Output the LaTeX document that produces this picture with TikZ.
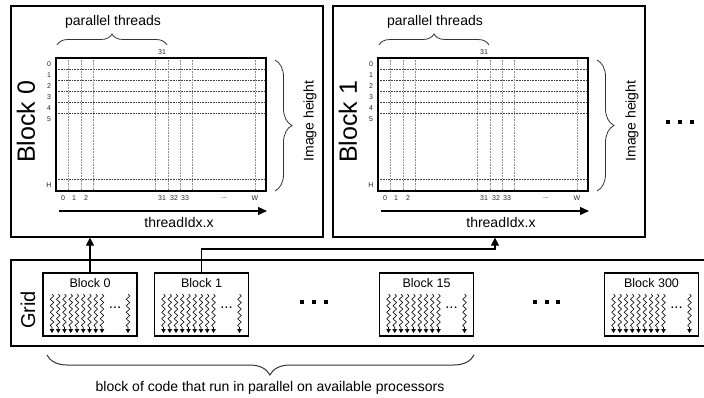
\documentclass[tikz,border=0pt]{standalone}
\usepackage{fontspec}
\setmainfont{Liberation Sans}
\usetikzlibrary{arrows.meta,decorations.pathreplacing,decorations.pathmorphing}
\begin{document}
\begin{tikzpicture}[x=1pt,y=-1pt,
  bigbox/.style={draw,line width=1.3pt,minimum width=312pt,minimum height=231pt,inner sep=0pt},
  imggrid/.style={draw,line width=1.6pt,minimum width=210pt,minimum height=133pt,inner sep=0pt},
  hdot/.style={densely dotted,line width=0.6pt,black!75},
  vdot/.style={densely dotted,line width=0.6pt,black!45},
  tinylab/.style={font=\fontsize{7}{7}\selectfont,inner sep=0pt,text=black!85},
  midlab/.style={font=\fontsize{14}{14}\selectfont,inner sep=0pt},
  biglab/.style={font=\fontsize{25}{25}\selectfont,inner sep=0pt,rotate=90},
  bracestyle/.style={decorate,line width=0.8pt,black!80},
  sblock/.style={draw,line width=1.2pt,minimum width=94pt,minimum height=63pt,inner sep=0pt},
  stitle/.style={font=\fontsize{12.5}{12.5}\selectfont,inner sep=0pt},
  wave/.style={decorate,decoration={snake,segment length=6.5pt,amplitude=1.8pt,post length=4pt},
    line width=0.6pt,-{Triangle[length=4pt,width=4.5pt]}},
  conn/.style={line width=1.3pt},
  bigtip/.style={-{Triangle[length=8pt,width=8pt]}}
]
\useasboundingbox (0,0) rectangle (704,398);

% ---------- two block panels ----------
\foreach \k/\off in {0/0,1/322}{
  \node[bigbox] (big\k) at (167+\off,121.5) {};
  \node[imggrid] (img\k) at (161+\off,124.5) {};
  \foreach \yy in {69,80,91,102,113,179}
    \draw[hdot] (56+\off,\yy) -- (266+\off,\yy);
  \foreach \xx in {68,81,93,155,168,180,192,255}
    \draw[vdot] (\xx+\off,58) -- (\xx+\off,191);
  \node[imggrid] at (img\k) {};
  \foreach \t/\yy in {0/64,1/75,2/86,3/97,4/108,5/119,H/185}
    \node[tinylab] (r\k\t) at (49+\off,\yy) {\t};
  \foreach \t/\xx in {0/63,1/74,2/86,31/162,32/174,33/185,W/255}
    \node[tinylab] (c\k\t) at (\xx+\off,198) {\t};
  \node[tinylab] (cd\k) at (224+\off,198) {...};
  \node[tinylab] (top\k) at (162+\off,52) {31};
  \draw[bracestyle,decoration={brace,amplitude=11pt}] (57+\off,45) -- (167+\off,45);
  \node[midlab] (pt\k) at (113+\off,22) {parallel threads};
  \draw[bracestyle,decoration={brace,amplitude=17pt}] (275+\off,60) -- (275+\off,191);
  \node[midlab,rotate=90] (ih\k) at (310+\off,121) {Image height};
  \node[biglab] (bl\k) at (26+\off,122) {Block \k};
  \coordinate (axs\k) at (59+\off,211);
  \coordinate (axe\k) at (267+\off,211);
  \draw[line width=1.2pt,-{Triangle[length=9pt,width=8pt]}] (axs\k) -- (axe\k);
  \node[midlab] (tx\k) at (179+\off,222) {threadIdx.x};
}

% dots to the right of the panels
\foreach \xx in {668,680,692}
  \fill (\xx-2,120) rectangle (\xx+2,124);

% ---------- grid ----------
\node[draw,line width=1.3pt,minimum width=699pt,minimum height=86pt,inner sep=0pt] (gridbox) at (360.5,303) {};
\node[font=\fontsize{20}{20}\selectfont,inner sep=0pt,rotate=90] (gridlab) at (28,310) {Grid};

\foreach \n/\cx/\lab in {b0/90/Block 0,b1/201.5/Block 1,b15/426.5/Block 15,b300/651.5/Block 300}{
  \node[sblock] (\n) at (\cx,304.5) {};
  \node[stitle] (\n t) at (\cx,283) {\lab};
  \foreach \j in {0,...,8}
    \draw[wave] (\cx-38+\j*6.25,294) -- (\cx-38+\j*6.25,333);
  \draw[wave] (\cx+38,294) -- (\cx+38,333);
  \node[font=\fontsize{15}{15}\selectfont,inner sep=0pt] (\n d) at (\cx+25,308) {...};
}

\foreach \xx in {302,314,326,535,547,558}
  \fill (\xx-2,300) rectangle (\xx+2,304);

% connectors
\draw[conn,bigtip] (b0.north) -- (b0.north |- big0.south);
\coordinate (jn) at (495,249);
\draw[conn,bigtip] (b1.north) |- (jn) -- (jn |- big1.south);

% bottom brace
\draw[bracestyle,line width=1pt,decoration={brace,amplitude=20pt,aspect=0.478}] (474,355) -- (47,355);
\node[midlab] (bt) at (270,388) {block of code that run in parallel on available processors};
\end{tikzpicture}
\end{document}
